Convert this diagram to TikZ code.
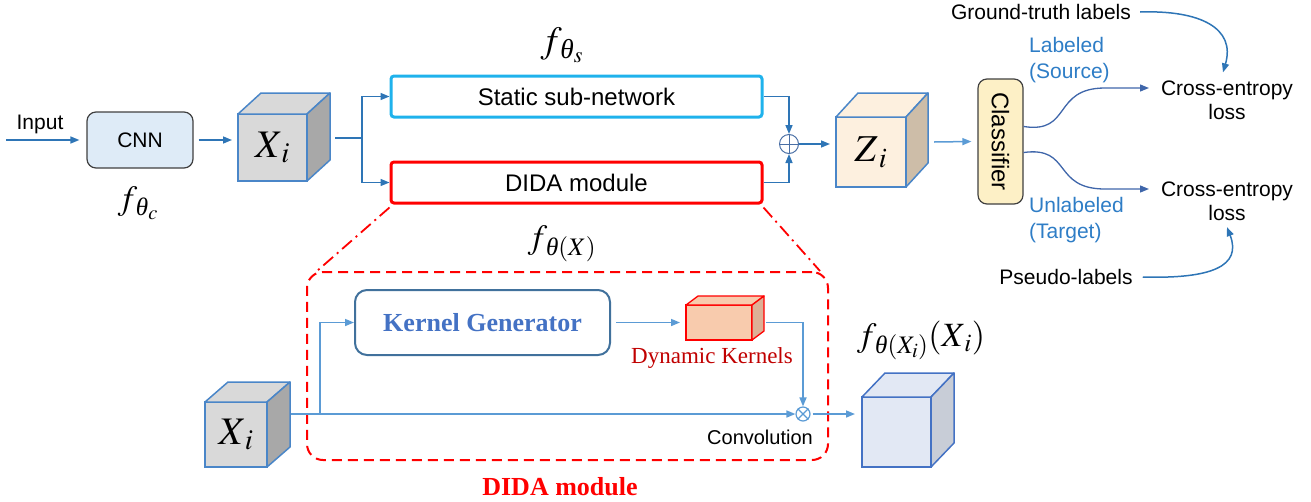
\documentclass[tikz,border=0pt]{standalone}
\usepackage{amsmath}
\usepackage{mathptmx}
\usepackage[no-math]{fontspec}
\setmainfont{Liberation Serif}
\setsansfont{Liberation Sans}
\usetikzlibrary{arrows.meta}

% italic serif theta for the subscripts
\newcommand{\thit}{\text{\normalfont\itshape θ}}

\definecolor{arrowblue}{HTML}{2E75B6}
\definecolor{lightarrow}{HTML}{5B9BD5}
\definecolor{curveblue}{HTML}{3F66AA}
\definecolor{labelblue}{HTML}{2E7DC6}
\definecolor{staticcyan}{HTML}{1FB2EC}
\definecolor{cnnfill}{HTML}{DEEBF7}
\definecolor{clsfill}{HTML}{FDF0C6}
\definecolor{boxline}{HTML}{404040}
\definecolor{cubeline}{HTML}{4A86C8}
\definecolor{cubegray}{HTML}{D9D9D9}
\definecolor{sidegray}{HTML}{A8A8A8}
\definecolor{zfront}{HTML}{FDF0DF}
\definecolor{zside}{HTML}{CDBDA8}
\definecolor{outfront}{HTML}{E2E8F4}
\definecolor{outside}{HTML}{C8CDD7}
\definecolor{kernfill}{HTML}{F8CBAD}
\definecolor{kernside}{HTML}{DDB096}
\definecolor{kgline}{HTML}{41719C}
\definecolor{kgtext}{HTML}{4472C4}
\definecolor{darkred}{HTML}{C00000}
\definecolor{opline}{HTML}{4A6FA5}

% front face as a named node, top and side faces drawn from its corners
\newcommand{\cubeshape}[9]{%
  \node[cubeface, fill=#8, minimum width={(#4-#2)*1pt}, minimum height={(#5-#3)*1pt},
        anchor=north west] (#1) at (#2,#3) {};
  \draw[cubeedge, fill=#8] (#1.north west) -- ++(#6,-#7) -- ++({#4-#2},0) -- (#1.north east) -- cycle;
  \draw[cubeedge, fill=#9] (#1.north east) -- ++(#6,-#7) -- ++(0,{#5-#3}) -- (#1.south east) -- cycle;
}

\tikzset{
  sans/.style={font=\sffamily\fontsize{21}{24}\selectfont, inner sep=2pt},
  sansbig/.style={font=\sffamily\fontsize{24}{28}\selectfont},
  mathlbl/.style={font=\fontsize{34}{38}\selectfont, inner sep=0pt},
  mathcube/.style={font=\fontsize{39}{44}\selectfont, inner sep=0pt},
  tip/.style={-{Triangle[length=9pt,width=7pt]}},
  arr/.style={draw=arrowblue, line width=1.5pt, tip},
  link/.style={draw=arrowblue, line width=1.5pt},
  arrlight/.style={draw=lightarrow, line width=1.6pt, tip},
  curvearr/.style={draw=curveblue, line width=1.3pt, tip},
  cubeface/.style={draw=cubeline, line width=1.5pt, inner sep=0pt, outer sep=0pt},
  cubeedge/.style={draw=cubeline, line width=1.5pt, line join=round},
  subnet/.style={sansbig, line width=3pt, rounded corners=3pt, minimum width=371pt,
                 minimum height=41pt, inner sep=0pt},
  roundbox/.style={draw=boxline, line width=1.2pt, rounded corners=9pt, inner sep=0pt},
  sumnode/.style={circle, draw=opline, line width=1pt, inner sep=0pt},
  dashdot/.style={draw=red, line width=1.8pt, dash pattern=on 13pt off 5pt on 2pt off 5pt},
}

\begin{document}
\begin{tikzpicture}[x=1pt, y=-1pt]
\useasboundingbox (0,0) rectangle (1311,501);

% ---------------- upper pipeline ----------------
\node[sans] (inlbl) at (40,124) {Input};
\coordinate (instart) at (6,140);
\node[roundbox, sans, fill=cnnfill, minimum width=106pt, minimum height=56pt] (cnn) at (140,140) {CNN};
\node[mathlbl] (fc) at (138,203) {$f_{\,\thit_c}$};
\draw[arr] (instart) -- ([xshift=-7pt]cnn.west);

\cubeshape{x1}{238}{114}{307}{181}{23}{21}{cubegray}{sidegray}
\node[mathcube] at (x1) {$X_{\,i}$};
\draw[arr] ([xshift=5pt]cnn.east) -- ([xshift=-6pt]x1.west |- cnn.east);

\coordinate (br) at (362,138);
\coordinate (x1out) at (335,138);
\draw[link] (x1out) -- (br);

\node[subnet, draw=staticcyan] (static) at (576.5,96.5) {Static sub-network};
\node[subnet, draw=red] (dida) at (576.5,182.5) {DIDA module};
\node[mathlbl, font=\fontsize{37}{40}\selectfont] (fs) at (562,45) {$f_{\,\thit_s}$};
\draw[arr] (br) |- (static.west);
\draw[arr] (br) |- (dida.west);

\node[sumnode, minimum size=19pt] (op) at (789,144) {};
\draw[draw=opline, line width=1pt] (op.north) -- (op.south) (op.west) -- (op.east);
\draw[arr] (static.east) -| (op.north);
\draw[arr] (dida.east) -| (op.south);

\cubeshape{z}{836}{117}{906}{187}{22}{24}{zfront}{zside}
\node[mathcube, font=\fontsize{38}{42}\selectfont] at (z) {$Z_{\,i}$};
\draw[arr] (op.east) -- ([xshift=-6pt]z.west |- op.east);

\node[roundbox, sansbig, fill=clsfill, rotate=-90, minimum width=125pt, minimum height=45pt] (cls) at (1000.5,141.5) {Classifier};
\coordinate (zout) at (934,142);
\draw[arr, draw=lightarrow] (zout) -- ([xshift=-6pt]cls.south);

% ---------------- losses ----------------
\node[sans, align=center] (ce1) at (1227,100) {Cross-entropy\\loss};
\node[sans, align=center] (ce2) at (1227,201.5) {Cross-entropy\\loss};
\coordinate (ce1in) at (1149,88);
\coordinate (ce2in) at (1149,189);
\draw[curvearr] ([yshift=15pt]cls.north) .. controls (1072,134) and (1052,88) .. (1105,88) -- (ce1in);
\draw[curvearr] ([yshift=-11pt]cls.north) .. controls (1072,146) and (1052,189) .. (1105,189) -- (ce2in);

\node[sans, text=labelblue, align=left, anchor=west, font=\sffamily\fontsize{21}{26}\selectfont] (lab) at (1027,60) {Labeled\\(Source)};
\node[sans, text=labelblue, align=left, anchor=west, font=\sffamily\fontsize{21}{26}\selectfont] (unlab) at (1027,220.5) {Unlabeled\\(Target)};

\node[sans] (gt) at (1041,12) {Ground-truth labels};
\node[sans] (pl) at (1066,277) {Pseudo-labels};
\draw[arr] ([xshift=7pt]gt.east) .. controls (1200,10) and (1236,28) .. ([xshift=-4pt,yshift=6pt]ce1.north);
\draw[arr] ([xshift=8pt]pl.east) .. controls (1212,279) and (1242,266) .. ([yshift=-4pt]ce2.south);

% ---------------- expanded DIDA module ----------------
\node[mathlbl] (fx) at (562,244) {$f_{\,\thit(X)}$};
\node[draw=red, line width=2pt, dash pattern=on 10pt off 6pt, rounded corners=16pt,
      minimum width=521pt, minimum height=188pt, inner sep=0pt] (dbox) at (567.5,366) {};
\draw[dashdot] ([yshift=-3pt]dida.south west) -- ([xshift=11pt]dbox.north west);
\draw[dashdot] ([yshift=-3pt]dida.south east) -- ([xshift=-9pt]dbox.north east);

\cubeshape{x2}{205}{402}{267}{467}{23}{20}{cubegray}{sidegray}
\node[mathcube] at (x2) {$X_{\,i}$};

\node[draw=kgline, line width=2pt, rounded corners=12pt, minimum width=255pt, minimum height=65pt,
      font=\bfseries\fontsize{26}{29}\selectfont, text=kgtext] (kg) at (482.5,322.5) {Kernel Generator};

\begin{scope}[cubeface/.style={draw=red, line width=1.3pt, inner sep=0pt, outer sep=0pt},
              cubeedge/.style={draw=red, line width=1.3pt, line join=round}]
\cubeshape{kc}{686}{305}{752}{340}{12}{9}{kernfill}{kernside}
\end{scope}
\node[font=\fontsize{23}{27}\selectfont, text=darkred] (dk) at (712,358) {Dynamic Kernels};

\node[sumnode, draw=lightarrow, line width=1.2pt, minimum size=14pt] (ot) at (803,414) {};
\draw[draw=lightarrow, line width=1.1pt] (ot.north west) -- (ot.south east) (ot.north east) -- (ot.south west);
\node[font=\sffamily\fontsize{20}{24}\selectfont] (conv) at (760,437) {Convolution};

\coordinate (x2out) at (291,414);
\coordinate (kb) at (320,414);
\draw[arrlight] (x2out) -- (ot.west);
\draw[arrlight] (kb) |- (kg.west);
\draw[arrlight] ([xshift=5pt]kg.east) -- ([xshift=-6pt]kc.west);
\draw[arrlight] ([xshift=14pt]kc.east) -| (ot.north);

\begin{scope}[cubeface/.style={draw=kgtext, line width=1.5pt, inner sep=0pt, outer sep=0pt},
              cubeedge/.style={draw=kgtext, line width=1.5pt, line join=round}]
\cubeshape{oc}{862}{397}{931}{467}{23}{24}{outfront}{outside}
\end{scope}
\draw[arrlight] ([xshift=2pt]ot.east) -- ([xshift=-7pt]oc.west |- ot.east);
\node[mathlbl] (fxi) at (921,340) {$f_{\,\thit(X_i)}(X_{\,i})$};

\node[font=\bfseries\fontsize{26}{30}\selectfont, text=red] (didalbl) at (560,487) {DIDA module};
\end{tikzpicture}
\end{document}
